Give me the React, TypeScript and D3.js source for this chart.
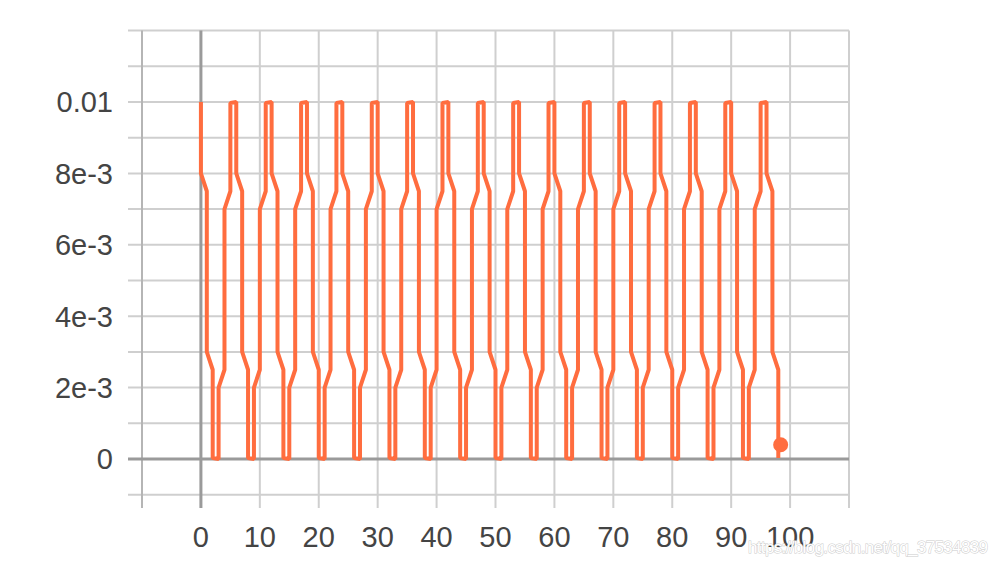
import React from 'react';
import * as d3 from 'd3';

// learning rate at first and last iteration of each epoch
const epochStartLR = [
  0.01, 0.0075, 0.0025, 0, 0.0025, 0.0075,
  0.01, 0.0075, 0.0025, 0, 0.0025, 0.0075,
  0.01, 0.0075, 0.0025, 0, 0.0025, 0.0075,
  0.01, 0.0075, 0.0025, 0, 0.0025, 0.0075,
  0.01, 0.0075, 0.0025, 0, 0.0025, 0.0075,
  0.01, 0.0075, 0.0025, 0, 0.0025, 0.0075,
  0.01, 0.0075, 0.0025, 0, 0.0025, 0.0075,
  0.01, 0.0075, 0.0025, 0, 0.0025, 0.0075,
  0.01, 0.0075, 0.0025, 0, 0.0025, 0.0075,
  0.01, 0.0075, 0.0025, 0, 0.0025, 0.0075,
  0.01, 0.0075, 0.0025, 0, 0.0025, 0.0075,
  0.01, 0.0075, 0.0025, 0, 0.0025, 0.0075,
  0.01, 0.0075, 0.0025, 0, 0.0025, 0.0075,
  0.01, 0.0075, 0.0025, 0, 0.0025, 0.0075,
  0.01, 0.0075, 0.0025, 0, 0.0025, 0.0075,
  0.01, 0.0075, 0.0025, 0, 0.0025, 0.0075,
  0.01, 0.0075, 0.0025,
];
const epochEndLR = [
  0.008, 0.003, 0.00003, 0.002, 0.007, 0.00997,
  0.008, 0.003, 0.00003, 0.002, 0.007, 0.00997,
  0.008, 0.003, 0.00003, 0.002, 0.007, 0.00997,
  0.008, 0.003, 0.00003, 0.002, 0.007, 0.00997,
  0.008, 0.003, 0.00003, 0.002, 0.007, 0.00997,
  0.008, 0.003, 0.00003, 0.002, 0.007, 0.00997,
  0.008, 0.003, 0.00003, 0.002, 0.007, 0.00997,
  0.008, 0.003, 0.00003, 0.002, 0.007, 0.00997,
  0.008, 0.003, 0.00003, 0.002, 0.007, 0.00997,
  0.008, 0.003, 0.00003, 0.002, 0.007, 0.00997,
  0.008, 0.003, 0.00003, 0.002, 0.007, 0.00997,
  0.008, 0.003, 0.00003, 0.002, 0.007, 0.00997,
  0.008, 0.003, 0.00003, 0.002, 0.007, 0.00997,
  0.008, 0.003, 0.00003, 0.002, 0.007, 0.00997,
  0.008, 0.003, 0.00003, 0.002, 0.007, 0.00997,
  0.008, 0.003, 0.00003, 0.002, 0.007, 0.00997,
  0.008, 0.003, 0.00003,
];

const yTickValues = [0, 0.002, 0.004, 0.006, 0.008, 0.01];
const yTickLabels = ['0', '2e-3', '4e-3', '6e-3', '8e-3', '0.01'];
const xTickValues = [0, 10, 20, 30, 40, 50, 60, 70, 80, 90, 100];
const xTickLabels = ['0', '10', '20', '30', '40', '50', '60', '70', '80', '90', '100'];
const yGridValues = [-0.001, 0, 0.001, 0.002, 0.003, 0.004, 0.005, 0.006, 0.007, 0.008, 0.009, 0.01, 0.011, 0.012];
const xGridValues = [-10, 0, 10, 20, 30, 40, 50, 60, 70, 80, 90, 100, 110];
const hoverEpoch = [98.4];
const hoverLR = [0.0004];

const W = 998;
const H = 564;
const LINE = '#ff6d3f';
const FONT = '"Liberation Sans", Arial, Helvetica, sans-serif';

export default function App() {
  const x = d3.scaleLinear().domain([-10, 110]).range([142, 849]);
  const y = d3.scaleLinear().domain([-0.001, 0.012]).range([494.7, 30.6]);

  const pts: [number, number][] = [];
  epochStartLR.forEach((s, e) => {
    pts.push([e, s]);
    pts.push([e, epochEndLR[e]]);
  });
  const line = d3
    .line<[number, number]>()
    .x((d) => x(d[0]))
    .y((d) => y(d[1]));

  return (
    <svg
      width={W}
      height={H}
      style={{ position: 'absolute', left: 0, top: 0, background: '#fff' }}
    >
      {/* horizontal grid */}
      {yGridValues.map((v) => (
        <line
          key={'hy' + v}
          x1={128}
          x2={849}
          y1={y(v)}
          y2={y(v)}
          stroke="#cfcfcf"
          strokeWidth={2}
        />
      ))}
      {/* vertical grid */}
      {xGridValues.map((v) => (
        <line
          key={'vx' + v}
          x1={x(v)}
          x2={x(v)}
          y1={y(0.012)}
          y2={508}
          stroke={v === -10 ? '#b5b5b5' : '#cfcfcf'}
          strokeWidth={2}
        />
      ))}
      {/* zero axes */}
      <line x1={128} x2={849} y1={y(0)} y2={y(0)} stroke="#9a9a9a" strokeWidth={3} />
      <line x1={x(0)} x2={x(0)} y1={y(0.012)} y2={508} stroke="#9a9a9a" strokeWidth={3} />

      {/* series */}
      <path
        d={line(pts) || ''}
        fill="none"
        stroke={LINE}
        strokeWidth={4}
        strokeLinejoin="bevel"
      />
      {hoverEpoch.map((e, i) => (
        <circle key={'h' + i} cx={x(e)} cy={y(hoverLR[i])} r={7.5} fill={LINE} />
      ))}

      {/* y labels */}
      {yTickValues.map((v, i) => (
        <text
          key={'yl' + v}
          x={113}
          y={y(v)}
          dy="0.36em"
          textAnchor="end"
          fontFamily={FONT}
          fontSize={29}
          fill="#444"
        >
          {yTickLabels[i]}
        </text>
      ))}
      {/* x labels */}
      {xTickValues.map((v, i) => (
        <text
          key={'xl' + v}
          x={x(v)}
          y={547}
          textAnchor="middle"
          fontFamily={FONT}
          fontSize={29}
          fill="#444"
        >
          {xTickLabels[i]}
        </text>
      ))}

      {/* watermark */}
      <text
        x={988}
        y={553}
        textAnchor="end"
        fontFamily={FONT}
        fontSize={17}
        fill="#ffffff"
        stroke="#cccccc"
        strokeWidth={1}
        style={{ paintOrder: 'stroke' }}
        textLength={240}
      >
        https://blog.csdn.net/qq_37534839
      </text>
    </svg>
  );
}
